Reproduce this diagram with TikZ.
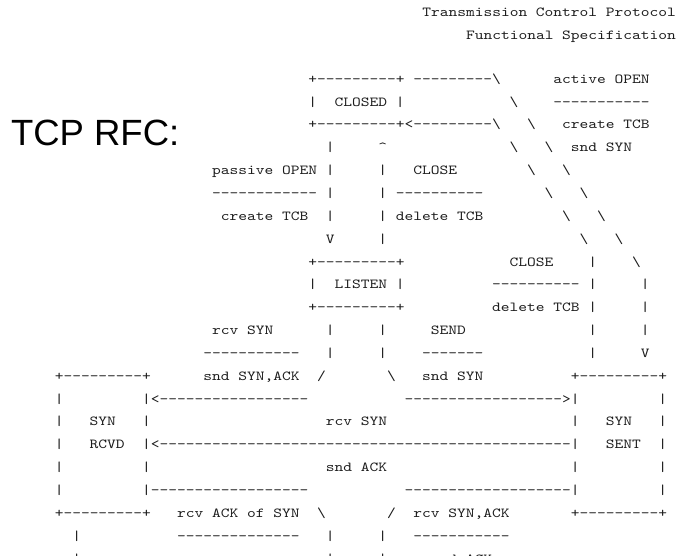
\documentclass[tikz,border=0pt]{standalone}
\usepackage{fontspec}
\setmainfont{Liberation Sans}
\setmonofont{lmmono10-regular.otf}[FakeStretch=1.2077]
\ExplSyntaxOn
% \sk{n}: n blank character cells; \rp{n}{c}: character c repeated n times
\cs_new:Npn \sk #1 { \hphantom { \prg_replicate:nn {#1} {x} } }
\cs_new:Npn \rp #1#2 { \prg_replicate:nn {#1} {#2} }
\ExplSyntaxOff
\newcommand\bs{\textbackslash}
\definecolor{ink}{RGB}{28,28,28}
\begin{document}
\begin{tikzpicture}[x=1pt,y=-1pt,
  ascii/.style={anchor=base west, inner sep=0pt, outer sep=0pt, text=ink,
    font=\ttfamily\fontsize{13.8}{13.8}\selectfont},
  title/.style={anchor=base west, inner sep=0pt, outer sep=0pt, text=black,
    font=\rmfamily\fontsize{36.5}{36.5}\selectfont}]
\useasboundingbox (0,0) rectangle (676,555);

% page header
\node[ascii] (hdr1) at (422.25,16.8) {Transmission\sk1Control\sk1Protocol};
\node[ascii] (hdr2) at (466,39.7) {Functional\sk1Specification};

% caption
\node[title] (caption) at (11,145.7) {TCP RFC:};

% state diagram, one line of text per row
\node[ascii] (r0)  at (46,83.2)   {\sk{30}+\rp9-+\sk1\rp9-\bs\sk6active\sk1OPEN};
\node[ascii] (r1)  at (46,106.05) {\sk{30}|\sk2CLOSED\sk1|\sk{12}\bs\sk4\rp{11}-};
\node[ascii] (r2)  at (46,128.9)  {\sk{30}+\rp9-+<\rp9-\bs\sk3\bs\sk3create\sk1TCB};
\node[ascii] (r3)  at (46,151.75) {\sk{32}|\sk5\textasciicircum\sk{14}\bs\sk3\bs\sk2snd\sk1SYN};
\node[ascii] (r4)  at (46,174.6)  {\sk{19}passive\sk1OPEN\sk1|\sk5|\sk3CLOSE\sk8\bs\sk3\bs};
\node[ascii] (r5)  at (46,197.45) {\sk{19}\rp{12}-\sk1|\sk5|\sk1\rp{10}-\sk7\bs\sk3\bs};
\node[ascii] (r6)  at (46,220.3)  {\sk{20}create\sk1TCB\sk2|\sk5|\sk1delete\sk1TCB\sk9\bs\sk3\bs};
\node[ascii] (r7)  at (46,243.15) {\sk{32}V\sk5|\sk{22}\bs\sk3\bs};
\node[ascii] (r8)  at (46,266.0)  {\sk{30}+\rp9-+\sk{12}CLOSE\sk4|\sk4\bs};
\node[ascii] (r9)  at (46,288.85) {\sk{30}|\sk2LISTEN\sk1|\sk{10}\rp{10}-\sk1|\sk5|};
\node[ascii] (r10) at (46,311.7)  {\sk{30}+\rp9-+\sk{10}delete\sk1TCB\sk1|\sk5|};
\node[ascii] (r11) at (46,334.55) {\sk{19}rcv\sk1SYN\sk6|\sk5|\sk5SEND\sk{14}|\sk5|};
\node[ascii] (r12) at (46,357.4)  {\sk{18}\rp{11}-\sk3|\sk5|\sk4\rp7-\sk{12}|\sk5V};
\node[ascii] (r13) at (46,380.25) {\sk1+\rp9-+\sk6snd\sk1SYN,ACK\sk2/\sk7\bs\sk3snd\sk1SYN\sk{10}+\rp9-+};
\node[ascii] (r14) at (46,403.1)  {\sk1|\sk9|<\rp{17}-\sk{11}\rp{18}->|\sk9|};
\node[ascii] (r15) at (46,425.95) {\sk1|\sk3SYN\sk3|\sk{20}rcv\sk1SYN\sk{21}|\sk3SYN\sk3|};
\node[ascii] (r16) at (46,448.8)  {\sk1|\sk3RCVD\sk2|<\rp{47}-|\sk3SENT\sk2|};
\node[ascii] (r17) at (46,471.65) {\sk1|\sk9|\sk{20}snd\sk1ACK\sk{21}|\sk9|};
\node[ascii] (r18) at (46,494.5)  {\sk1|\sk9|\rp{18}-\sk{11}\rp{19}-|\sk9|};
\node[ascii] (r19) at (46,517.35) {\sk1+\rp9-+\sk3rcv\sk1ACK\sk1of\sk1SYN\sk2\bs\sk7/\sk2rcv\sk1SYN,ACK\sk7+\rp9-+};
\node[ascii] (r20) at (46,540.2)  {\sk3|\sk{11}\rp{14}-\sk3|\sk5|\sk3\rp{11}-};
\node[ascii] (r21) at (46,563.05) {\sk3|\sk{18}x\sk9|\sk5|\sk5snd\sk1ACK};
\end{tikzpicture}
\end{document}
